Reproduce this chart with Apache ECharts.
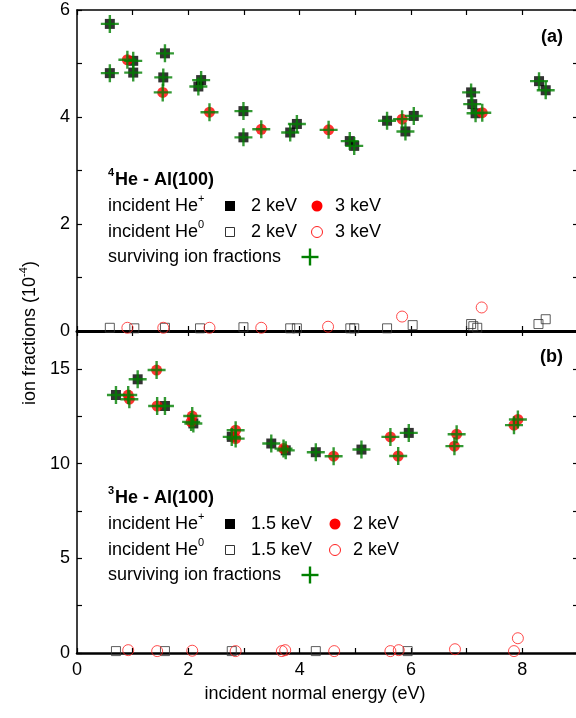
<!DOCTYPE html>
<html>
<head>
<meta charset="utf-8">
<script src="https://cdn.jsdelivr.net/npm/echarts@6/dist/echarts.min.js"></script>
<style>
  html, body { margin: 0; padding: 0; background: #fff; }
  #chart { width: 576px; height: 718px; }
</style>
</head>
<body>
<div id="chart"></div>
<script>
// panel (a): 4He - Al(100), x = incident normal energy (eV), y = ion fraction (1e-4)
var aIonSolid2 = [[0.59,5.74],[0.59,4.82],[1.01,5.05],[1.01,4.83],[1.58,5.19],[1.55,4.74],[2.23,4.69],[2.18,4.57],
  [2.99,4.11],[2.99,3.62],[3.83,3.71],[3.95,3.87],[4.90,3.55],[4.98,3.46],[5.57,3.93],[5.90,3.73],[6.05,4.02],
  [7.08,4.46],[7.10,4.24],[7.16,4.07],[8.30,4.67],[8.42,4.50]];
var aIonSolid3 = [[0.905,5.07],[1.54,4.46],[2.38,4.09],[3.31,3.77],[4.52,3.76],[5.84,3.96],[7.28,4.08]];
var aNeuOpen2 = [[0.59,0.06],[1.03,0.05],[1.58,0.06],[2.21,0.05],[2.99,0.07],[3.83,0.05],[3.95,0.05],[4.91,0.05],
  [4.98,0.05],[5.57,0.05],[6.03,0.11],[7.08,0.13],[7.12,0.09],[7.19,0.06],[8.29,0.13],[8.42,0.22]];
var aNeuOpen3 = [[0.905,0.06],[1.55,0.06],[2.38,0.06],[3.31,0.06],[4.51,0.08],[5.84,0.27],[7.27,0.44]];

// panel (b): 3He - Al(100)
var bIonSolid15 = [[0.70,13.62],[1.09,14.45],[1.58,13.04],[2.09,12.12],[2.78,11.41],[3.49,11.06],[3.75,10.7],
  [4.29,10.6],[5.11,10.74],[5.96,11.62]];
var bIonSolid2 = [[0.92,13.62],[0.94,13.4],[1.43,14.94],[1.44,13.04],[2.07,12.51],[2.05,12.2],[2.85,11.76],
  [2.85,11.32],[3.71,10.79],[4.61,10.39],[5.63,11.41],[5.77,10.40],[6.82,11.55],[6.78,10.92],[7.85,12.03],[7.92,12.33]];
var bNeuOpen15 = [[0.70,0.1],[1.58,0.1],[2.78,0.1],[4.29,0.1],[5.94,0.1]];
var bNeuOpen2 = [[0.92,0.15],[1.44,0.1],[2.07,0.12],[2.85,0.1],[3.68,0.1],[3.74,0.15],[4.62,0.1],[5.63,0.1],
  [5.78,0.15],[6.79,0.2],[7.85,0.1],[7.92,0.78]];

// surviving ion fractions = the solid points
var aSurviving = aIonSolid2.concat(aIonSolid3);
var bSurviving = bIonSolid15.concat(bIonSolid2);

var FONT = 'Liberation Sans, Arial, sans-serif';
var GREEN = '#008000';
var PLUS = 'path://M7.8,0h2.4v7.8h7.8v2.4h-7.8v7.8h-2.4v-7.8h-7.8v-2.4h7.8z';

function xAx(grid, pos, labels, lw) {
  return {
    type: 'value', gridIndex: grid, position: pos, min: 0, max: 9, interval: 1,
    axisLine: { show: true, onZero: false, lineStyle: { color: '#000', width: lw } },
    axisTick: { show: true, inside: true, length: 5, lineStyle: { color: '#000', width: 1.2 } },
    axisLabel: {
      show: labels, color: '#000', fontFamily: FONT, fontSize: 18, margin: 8,
      formatter: function (v) { return v % 2 === 0 && v < 9 ? String(v) : ''; }
    },
    splitLine: { show: false }
  };
}
function yAx(grid, pos, max, step, every, labels) {
  return {
    type: 'value', gridIndex: grid, position: pos, min: 0, max: max, interval: step,
    axisLine: { show: true, onZero: false, lineStyle: { color: '#000', width: 1.5 } },
    axisTick: { show: true, inside: true, length: 5, lineStyle: { color: '#000', width: 1.2 } },
    axisLabel: {
      show: labels, color: '#000', fontFamily: FONT, fontSize: 18, margin: 7,
      formatter: function (v) { return v % every === 0 ? String(v) : ''; }
    },
    splitLine: { show: false }
  };
}
function sc(data, xi, yi, kind) {
  var s = { type: 'scatter', xAxisIndex: xi, yAxisIndex: yi, data: data, z: 2 };
  if (kind === 'sq') { s.symbol = 'rect'; s.symbolSize = 10; s.itemStyle = { color: '#000' }; s.z = 3; }
  if (kind === 'dot') { s.symbol = 'circle'; s.symbolSize = 11; s.itemStyle = { color: '#ff0000' }; s.z = 3; }
  if (kind === 'osq') { s.symbol = 'rect'; s.symbolSize = 9; s.itemStyle = { color: 'rgba(0,0,0,0)', borderColor: '#333', borderWidth: 1 }; }
  if (kind === 'odot') { s.symbol = 'circle'; s.symbolSize = 11; s.itemStyle = { color: 'rgba(0,0,0,0)', borderColor: '#ff2020', borderWidth: 1 }; }
  if (kind === 'plus') { s.symbol = PLUS; s.symbolSize = 18; s.itemStyle = { color: GREEN }; s.z = 4; }
  s.emphasis = { disabled: true };
  return s;
}

function txt(x, y, t, opts) {
  opts = opts || {};
  return { type: 'text', x: x, y: y, z: 10, rotation: opts.rot || 0,
    style: { text: t, fill: '#000', align: opts.align || 'left', verticalAlign: 'middle',
      font: (opts.bold ? 'bold ' : '') + (opts.size || 18) + 'px ' + FONT } };
}
function sup(x, y, t, bold) { return txt(x, y, t, { size: 11, bold: bold }); }
function mark(x, y, kind) {
  if (kind === 'sq') return { type: 'rect', z: 10, shape: { x: x - 5, y: y - 5, width: 10, height: 10 }, style: { fill: '#000' } };
  if (kind === 'osq') return { type: 'rect', z: 10, shape: { x: x - 4.5, y: y - 4.5, width: 9, height: 9 }, style: { fill: 'none', stroke: '#333', lineWidth: 1 } };
  if (kind === 'dot') return { type: 'circle', z: 10, shape: { cx: x, cy: y, r: 5.5 }, style: { fill: '#ff0000' } };
  if (kind === 'odot') return { type: 'circle', z: 10, shape: { cx: x, cy: y, r: 5.5 }, style: { fill: 'none', stroke: '#ff2020', lineWidth: 1 } };
  return { type: 'group', z: 10, children: [
    { type: 'rect', shape: { x: x - 8.5, y: y - 1.2, width: 17, height: 2.4 }, style: { fill: GREEN } },
    { type: 'rect', shape: { x: x - 1.2, y: y - 8.5, width: 2.4, height: 17 }, style: { fill: GREEN } }
  ] };
}

function legendBlock(y0, low, high, xDot, xHigh) {
  return [
    sup(108, y0 - 7, low === '1.5' ? '3' : '4', true), txt(115, y0, 'He - Al(100)', { bold: true }),
    txt(108, y0 + 26, 'incident He'), sup(198, y0 + 19, '+'),
    mark(230, y0 + 26, 'sq'), txt(251, y0 + 26, low + ' keV'), mark(xDot, y0 + 26, 'dot'), txt(xHigh, y0 + 26, high + ' keV'),
    txt(108, y0 + 52, 'incident He'), sup(198, y0 + 45, '0'),
    mark(230, y0 + 52, 'osq'), txt(251, y0 + 52, low + ' keV'), mark(xDot, y0 + 52, 'odot'), txt(xHigh, y0 + 52, high + ' keV'),
    txt(108, y0 + 77, 'surviving ion fractions'), mark(310, y0 + 77, 'plus')
  ];
}

var chart = echarts.init(document.getElementById('chart'), null, { renderer: 'canvas' });
chart.setOption({
  animation: false,
  backgroundColor: '#fff',
  grid: [
    { left: 77, width: 501, top: 10, height: 321, outerBoundsMode: 'none' },
    { left: 77, width: 501, top: 331, height: 322, outerBoundsMode: 'none' }
  ],
  xAxis: [ xAx(0, 'bottom', false, 2), xAx(0, 'top', false, 1.5), xAx(1, 'bottom', true, 2.5), xAx(1, 'top', false, 3) ],
  yAxis: [ yAx(0, 'left', 6, 1, 2, true), yAx(0, 'right', 6, 1, 2, false),
           yAx(1, 'left', 17, 2.5, 5, true), yAx(1, 'right', 17, 2.5, 5, false) ],
  series: [
    sc(aNeuOpen2, 0, 0, 'osq'), sc(aNeuOpen3, 0, 0, 'odot'),
    sc(aIonSolid2, 0, 0, 'sq'), sc(aIonSolid3, 0, 0, 'dot'), sc(aSurviving, 0, 0, 'plus'),
    sc(bNeuOpen15, 2, 2, 'osq'), sc(bNeuOpen2, 2, 2, 'odot'),
    sc(bIonSolid15, 2, 2, 'sq'), sc(bIonSolid2, 2, 2, 'dot'), sc(bSurviving, 2, 2, 'plus')
  ],
  graphic: [
    txt(563, 37, '(a)', { bold: true, align: 'right' }),
    txt(563, 357, '(b)', { bold: true, align: 'right' }),
    txt(315, 694, 'incident normal energy (eV)', { align: 'center' }),
    // rotated y title: "ion fractions (10" + superscript "-4" + ")"
    txt(30, 405, 'ion fractions (10', { rot: Math.PI / 2 }),
    txt(24, 277, '-4', { rot: Math.PI / 2, size: 11 }),
    txt(30, 267, ')', { rot: Math.PI / 2 })
  ].concat(legendBlock(180, '2', '3', 317, 335), legendBlock(498, '1.5', '2', 335, 353))
});
</script>
</body>
</html>
